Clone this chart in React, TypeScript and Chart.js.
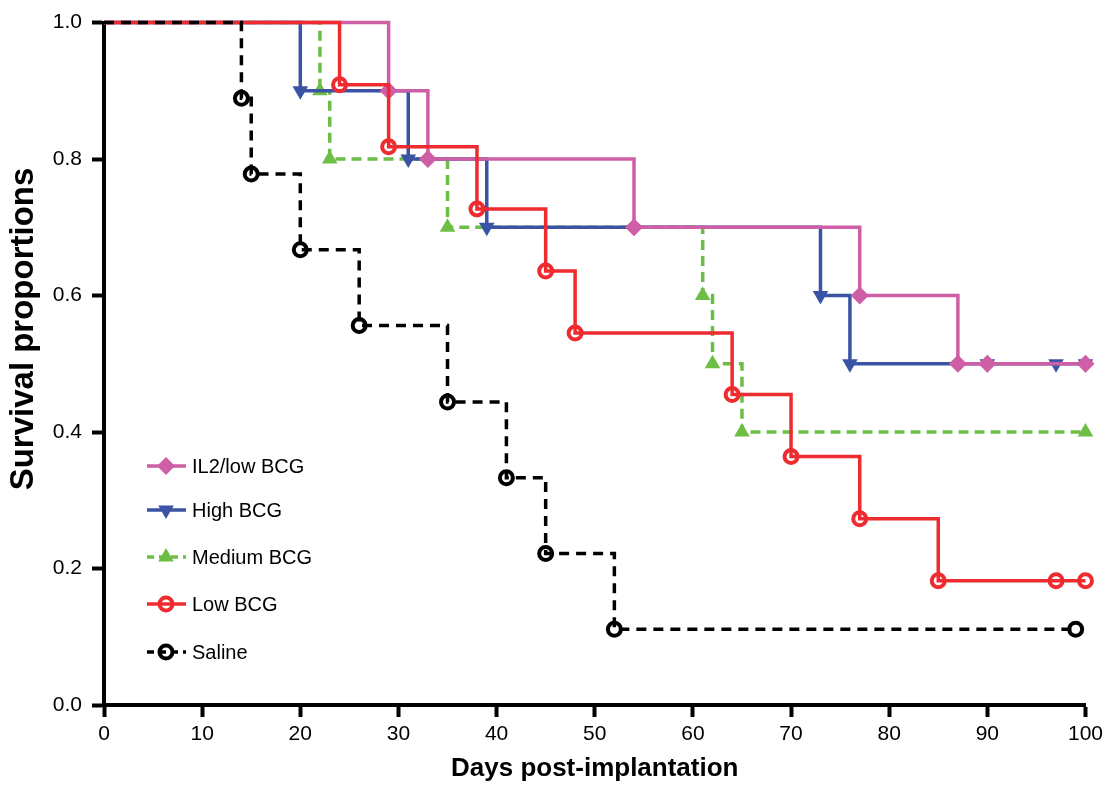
import React, { useEffect, useRef } from 'react';
import { Chart, registerables } from 'chart.js';

Chart.register(...registerables);

// ---- Data (Kaplan-Meier steps; first point = start, others = events / censored) ----
const seriesNames = ['IL2/low BCG', 'High BCG', 'Medium BCG', 'Low BCG', 'Saline'];

const il2Days = [0, 29, 33, 54, 77, 87, 90, 100];
const il2Surv = [1.0, 0.9, 0.8, 0.7, 0.6, 0.5, 0.5, 0.5];

const highDays = [0, 20, 31, 39, 73, 76, 90, 97, 100];
const highSurv = [1.0, 0.9, 0.8, 0.7, 0.6, 0.5, 0.5, 0.5, 0.5];

const medDays = [0, 22, 23, 35, 61, 62, 65, 100];
const medSurv = [1.0, 0.9, 0.8, 0.7, 0.6, 0.5, 0.4, 0.4];

const lowDays = [0, 24, 29, 38, 45, 48, 64, 70, 77, 85, 97, 100];
const lowSurv = [1.0, 0.909, 0.818, 0.727, 0.636, 0.545, 0.455, 0.364, 0.273, 0.182, 0.182, 0.182];

const salDays = [0, 14, 15, 20, 26, 35, 41, 45, 52, 99];
const salSurv = [1.0, 0.889, 0.778, 0.667, 0.556, 0.444, 0.333, 0.222, 0.111, 0.111];

const xTickStep = 10;
const yTickStep = 0.2;
const yTitle = 'Survival proportions';
const xTitle = 'Days post-implantation';

const FONT = 'Arial, "Liberation Sans", Helvetica, sans-serif';

const colors = ['#CE5EA5', '#3A53A4', '#6CBE45', '#EE2B2F', '#000000'];
const dashes: number[][] = [[], [], [10, 6], [], [10, 7]];
const styles = ['rectRot', 'triangleDown', 'triangle', 'circle', 'circle'];

const toPts = (xs: number[], ys: number[]) => xs.map((x, i) => ({ x, y: ys[i] }));

function drawMarker(ctx: CanvasRenderingContext2D, style: string, x: number, y: number, color: string) {
  ctx.save();
  ctx.fillStyle = color;
  ctx.strokeStyle = color;
  ctx.setLineDash([]);
  ctx.beginPath();
  if (style === 'rectRot') {
    const r = 9;
    ctx.moveTo(x, y - r);
    ctx.lineTo(x + r, y);
    ctx.lineTo(x, y + r);
    ctx.lineTo(x - r, y);
    ctx.closePath();
    ctx.fill();
  } else if (style === 'triangle' || style === 'triangleDown') {
    const r = 9;
    const s = style === 'triangle' ? 1 : -1;
    ctx.moveTo(x, y - s * r);
    ctx.lineTo(x + r * 0.866, y + s * r * 0.5);
    ctx.lineTo(x - r * 0.866, y + s * r * 0.5);
    ctx.closePath();
    ctx.fill();
  } else {
    ctx.lineWidth = 4;
    ctx.arc(x, y, 6.5, 0, Math.PI * 2);
    ctx.stroke();
  }
  ctx.restore();
}

const legendPlugin = {
  id: 'kmLegend',
  afterDraw(chart: any) {
    const ctx: CanvasRenderingContext2D = chart.ctx;
    const ys = [466, 510, 557, 604, 652];
    seriesNames.forEach((name, i) => {
      const y = ys[i];
      ctx.save();
      ctx.strokeStyle = colors[i];
      ctx.lineWidth = 3.5;
      ctx.setLineDash(dashes[i].length ? [7, 5] : []);
      ctx.beginPath();
      ctx.moveTo(147, y);
      ctx.lineTo(186, y);
      ctx.stroke();
      ctx.restore();
      drawMarker(ctx, styles[i], 166, y, colors[i]);
      ctx.save();
      ctx.fillStyle = '#000';
      ctx.font = `20px ${FONT}`;
      ctx.textBaseline = 'middle';
      ctx.textAlign = 'left';
      ctx.fillText(name, 192, y + 1);
      ctx.restore();
    });
    // y-axis title (positioned like the reference, slightly above axis centre)
    ctx.save();
    ctx.fillStyle = '#000';
    ctx.font = `bold 33px ${FONT}`;
    ctx.textAlign = 'center';
    ctx.textBaseline = 'alphabetic';
    ctx.translate(33, 329);
    ctx.rotate(-Math.PI / 2);
    ctx.fillText(yTitle, 0, 0);
    ctx.restore();
  },
};

function makeDataset(i: number, xs: number[], ys: number[], order: number) {
  const style = styles[i];
  const radii = xs.map((_, k) => (k === 0 ? 0 : style === 'circle' ? 6.5 : 9));
  return {
    label: seriesNames[i],
    data: toPts(xs, ys),
    stepped: 'before' as const,
    borderColor: colors[i],
    borderWidth: 3.5,
    borderDash: dashes[i],
    pointStyle: style === 'triangleDown' ? 'triangle' : style,
    pointRotation: style === 'triangleDown' ? 180 : 0,
    pointRadius: radii,
    pointHoverRadius: radii,
    pointBorderColor: colors[i],
    pointBackgroundColor: style === 'circle' ? 'rgba(0,0,0,0)' : colors[i],
    pointBorderWidth: style === 'circle' ? 4 : 0,
    fill: false,
    clip: false as const,
    order,
  };
}

export default function App() {
  const ref = useRef<HTMLCanvasElement | null>(null);

  useEffect(() => {
    if (!ref.current) return;
    const chart = new Chart(ref.current, {
      type: 'line',
      data: {
        datasets: [
          makeDataset(0, il2Days, il2Surv, 2),
          makeDataset(1, highDays, highSurv, 3),
          makeDataset(2, medDays, medSurv, 4),
          makeDataset(3, lowDays, lowSurv, 1),
          makeDataset(4, salDays, salSurv, 0),
        ] as any,
      },
      options: {
        animation: false,
        responsive: true,
        maintainAspectRatio: false,
        layout: { padding: { top: 20, right: 19, left: 0, bottom: 0 } },
        plugins: {
          legend: { display: false },
          tooltip: { enabled: false },
        },
        scales: {
          x: {
            type: 'linear',
            min: 0,
            max: 100,
            ticks: {
              stepSize: xTickStep,
              color: '#000',
              font: { size: 21, family: FONT },
              padding: 5,
            },
            grid: {
              display: true,
              drawOnChartArea: false,
              drawTicks: true,
              tickLength: 12,
              tickWidth: 4,
              tickColor: '#000',
            },
            border: { display: true, color: '#000', width: 4 },
            title: {
              display: true,
              text: xTitle,
              color: '#000',
              font: { size: 26, weight: 'bold', family: FONT },
              padding: { top: 0, bottom: 1 },
            },
            afterFit: (s: any) => {
              s.height = 80;
            },
          },
          y: {
            type: 'linear',
            min: 0,
            max: 1,
            ticks: {
              stepSize: yTickStep,
              color: '#000',
              font: { size: 21, family: FONT },
              padding: 10,
              callback: (v: any) => Number(v).toFixed(1),
            },
            grid: {
              display: true,
              drawOnChartArea: false,
              drawTicks: true,
              tickLength: 12,
              tickWidth: 4,
              tickColor: '#000',
            },
            border: { display: true, color: '#000', width: 4 },
            title: { display: false },
            afterFit: (s: any) => {
              s.width = 104;
            },
          },
        },
      },
      plugins: [legendPlugin],
    });
    return () => chart.destroy();
  }, []);

  return (
    <div style={{ position: 'fixed', left: 0, top: 0, width: 1108, height: 785, background: '#fff' }}>
      <canvas ref={ref} />
    </div>
  );
}
